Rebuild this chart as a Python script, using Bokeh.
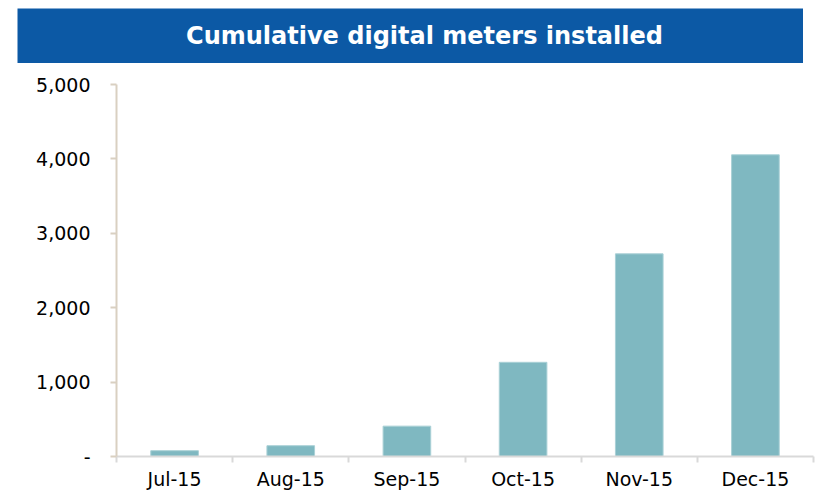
from bokeh.plotting import figure
from bokeh.layouts import column
from bokeh.models import FixedTicker, NumeralTickFormatter, Range1d, Label, ColumnDataSource
from bokeh.embed import file_html
from bokeh.resources import INLINE

# ---- data ----
months = ["Jul-15", "Aug-15", "Sep-15", "Oct-15", "Nov-15", "Dec-15"]
meters = [78, 145, 408, 1266, 2724, 4055]
y_ticks = [0, 1000, 2000, 3000, 4000, 5000]
title_text = "Cumulative digital meters installed"

BLUE = "#0C59A5"
BAR = "#7FB8C1"

# ---- banner ----
banner = figure(width=786, height=55, x_range=Range1d(0, 1), y_range=Range1d(0, 1),
                output_backend="svg", toolbar_location=None, min_border=0,
                margin=(8, 0, 0, 17))
banner.frame_align = False
banner.axis.visible = False
banner.grid.visible = False
banner.outline_line_color = None
banner.background_fill_color = BLUE
banner.border_fill_color = BLUE
banner.add_layout(Label(x=0.5, y=0.5, x_offset=14, text=title_text, text_align="center",
                        text_baseline="middle", text_color="white",
                        text_font="DejaVu Sans", text_font_style="bold",
                        text_font_size="24px"))

# ---- chart ----
n = len(months)
xs = [i + 0.5 for i in range(n)]
src = ColumnDataSource(dict(x=xs, top=meters, label=months))

p = figure(width=816, height=429, x_range=Range1d(0, n), y_range=Range1d(0, 5000),
           output_backend="svg", toolbar_location=None,
           min_border_left=116, min_border_right=3, min_border_top=21, min_border_bottom=36)
p.frame_align = False
p.vbar(x="x", top="top", width=0.41, source=src, fill_color=BAR, line_color="#A9D0D6",
       line_width=1)

p.xgrid.visible = False
p.ygrid.visible = False
p.outline_line_color = None

xt = FixedTicker(ticks=xs, minor_ticks=list(range(n + 1)))
p.xaxis.ticker = xt
p.xaxis.major_label_overrides = {x: m for x, m in zip(xs, months)}
p.xaxis.major_tick_line_color = None
p.xaxis.major_tick_out = 0
p.xaxis.major_tick_in = 0
p.xaxis.minor_tick_line_color = "#D9D9D9"
p.xaxis.minor_tick_line_width = 2
p.xaxis.minor_tick_out = 6
p.xaxis.minor_tick_in = 0
p.xaxis.axis_line_color = "#D9D9D9"
p.xaxis.axis_line_width = 2
p.xaxis.major_label_standoff = 5
p.xaxis.major_label_text_font = "DejaVu Sans"
p.xaxis.major_label_text_font_size = "19px"
p.xaxis.major_label_text_color = "black"

p.yaxis.ticker = FixedTicker(ticks=y_ticks)
p.yaxis.formatter = NumeralTickFormatter(format="0,0")
p.yaxis.major_label_overrides = {0: "-"}
p.yaxis.axis_line_color = "#D9D0C1"
p.yaxis.axis_line_width = 2
p.yaxis.major_tick_line_color = "#D9D0C1"
p.yaxis.major_tick_line_width = 2
p.yaxis.major_tick_out = 6
p.yaxis.major_tick_in = 0
p.yaxis.minor_tick_line_color = None
p.yaxis.major_label_standoff = 20
p.yaxis.major_label_text_font = "DejaVu Sans"
p.yaxis.major_label_text_font_size = "19px"
p.yaxis.major_label_text_color = "black"

layout = column(banner, p, spacing=0)
open("out.html", "w").write(file_html(layout, INLINE))
